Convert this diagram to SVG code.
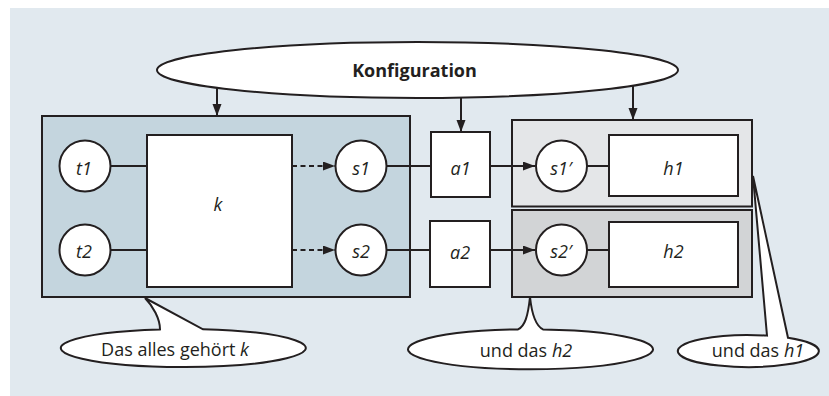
<svg xmlns="http://www.w3.org/2000/svg" width="829" height="396" viewBox="0 0 829 396">
<style>
  .ln { stroke: #231f20; stroke-width: 2; fill: none; }
  .dash { stroke-dasharray: 5 3.5; }
  .nd { stroke: #231f20; stroke-width: 2; fill: #ffffff; }
  .tx { font-family: "Open Sans", "Noto Sans", sans-serif; font-size: 18px; fill: #231f20; text-anchor: middle; }
  .it { font-style: italic; }
  .bd { font-weight: bold; }
</style>
<defs>
  <marker id="ah" markerUnits="userSpaceOnUse" markerWidth="12" markerHeight="10" refX="12" refY="4.5" orient="auto">
    <path d="M0,0 L12,4.5 L0,9 Z" fill="#231f20"/>
  </marker>
</defs>
<rect x="10" y="8" width="819" height="388" fill="#e1e9ef"/>

<g id="container-k">
  <rect x="42" y="116" width="368" height="181" fill="#c4d5de" stroke="#231f20" stroke-width="2"/>
</g>
<g id="container-h1">
  <rect x="512" y="120" width="240" height="86.5" fill="#e4e6e8" stroke="#231f20" stroke-width="2"/>
</g>
<g id="container-h2">
  <rect x="512" y="210" width="240" height="87" fill="#d2d4d6" stroke="#231f20" stroke-width="2"/>
</g>

<g id="connectors">
  <line class="ln" x1="217" y1="80" x2="217" y2="116" marker-end="url(#ah)"/>
  <line class="ln" x1="461" y1="80" x2="461" y2="132" marker-end="url(#ah)"/>
  <line class="ln" x1="633" y1="80" x2="633" y2="120" marker-end="url(#ah)"/>
  <line class="ln" x1="110" y1="166" x2="147" y2="166"/>
  <line class="ln" x1="110" y1="250" x2="147" y2="250"/>
  <line class="ln dash" x1="292" y1="166" x2="335" y2="166" marker-end="url(#ah)"/>
  <line class="ln dash" x1="292" y1="250" x2="335" y2="250" marker-end="url(#ah)"/>
  <line class="ln" x1="386" y1="166" x2="431" y2="166"/>
  <line class="ln" x1="386" y1="250" x2="430" y2="250"/>
  <line class="ln" x1="490" y1="166" x2="535" y2="166" marker-end="url(#ah)"/>
  <line class="ln" x1="490" y1="250" x2="535" y2="250" marker-end="url(#ah)"/>
  <line class="ln" x1="587" y1="166" x2="609" y2="166"/>
  <line class="ln" x1="587" y1="250" x2="609" y2="250"/>
</g>

<g id="konfiguration">
  <ellipse class="nd" cx="417.5" cy="70" rx="260.5" ry="28"/>
  <text class="tx bd" x="414.5" y="77">Konfiguration</text>
</g>

<g id="k">
  <rect class="nd" x="147" y="135" width="145" height="152"/>
  <text class="tx it" x="218" y="211">k</text>
</g>
<g id="t1">
  <circle class="nd" cx="85" cy="166" r="25.5"/>
  <text class="tx it" x="84" y="175">t1</text>
</g>
<g id="t2">
  <circle class="nd" cx="85" cy="250" r="25.5"/>
  <text class="tx it" x="84" y="258">t2</text>
</g>
<g id="s1">
  <circle class="nd" cx="361" cy="166" r="25.5"/>
  <text class="tx it" x="361" y="175">s1</text>
</g>
<g id="s2">
  <circle class="nd" cx="361" cy="250" r="25.5"/>
  <text class="tx it" x="361" y="258">s2</text>
</g>
<g id="a1">
  <rect class="nd" x="431" y="132" width="59" height="65"/>
  <text class="tx it" x="460.5" y="175">a1</text>
</g>
<g id="a2">
  <rect class="nd" x="430" y="221" width="60" height="66"/>
  <text class="tx it" x="460" y="259">a2</text>
</g>
<g id="s1p">
  <circle class="nd" cx="561.5" cy="166" r="25.5"/>
  <text class="tx it" x="561" y="175">s1′</text>
</g>
<g id="s2p">
  <circle class="nd" cx="561.5" cy="250" r="25.5"/>
  <text class="tx it" x="561" y="258">s2′</text>
</g>
<g id="h1">
  <rect class="nd" x="609" y="135" width="129" height="61"/>
  <text class="tx it" x="673.5" y="175">h1</text>
</g>
<g id="h2">
  <rect class="nd" x="609" y="222" width="129" height="65"/>
  <text class="tx it" x="673.5" y="258">h2</text>
</g>

<g id="callout-k">
  <path class="nd" d="M160,329.4 C160,319 153,306 145,298 L203,329.3 A122.5 19 0 1 1 160,329.4 Z"/>
  <text class="tx" x="175" y="356">Das alles gehört <tspan class="it">k</tspan></text>
</g>
<g id="callout-h2">
  <path class="nd" d="M518,329.4 C525,326 528,316 530,297 C532,316 536,326 543,329.4 A122.5 20 0 1 1 518,329.4 Z"/>
  <text class="tx" x="526" y="357">und das <tspan class="it">h2</tspan></text>
</g>
<g id="callout-h1">
  <path class="nd" d="M767,335.6 L753,176 L788,337.8 A70.5 16 0 1 1 767,335.6 Z"/>
  <text class="tx" x="758" y="357">und das <tspan class="it">h1</tspan></text>
</g>
</svg>
